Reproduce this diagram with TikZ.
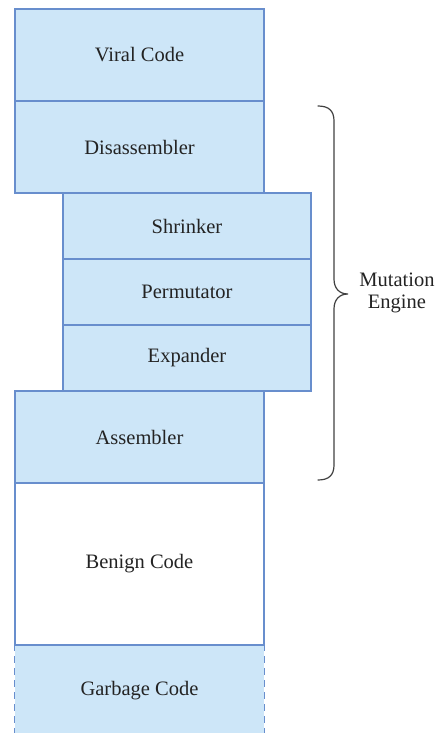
\documentclass[tikz,border=0pt]{standalone}
\usepackage{fontspec}
\setmainfont{Liberation Serif}
\definecolor{boxfill}{RGB}{205,230,248}
\definecolor{boxline}{RGB}{104,142,205}
\definecolor{txt}{RGB}{35,35,35}
\begin{document}
\begin{tikzpicture}[x=1pt,y=-1pt,
  layer/.style={draw=boxline,line width=1.3pt,fill=boxfill,inner sep=0pt,
    minimum width=249pt,text=txt,font=\fontsize{20.5}{24}\selectfont},
  tall/.style={minimum height=92pt},
  thin/.style={minimum height=66pt},
  bracestyle/.style={draw=black!75,line width=1.2pt,line cap=round}]
\useasboundingbox (0,0) rectangle (443,733);
% main column
\node[layer,tall] (viral) at (139.5,55) {Viral Code};
\node[layer,tall] (disasm) at (139.5,147) {Disassembler};
% shifted mutation stages
\node[layer,thin,minimum width=248pt] (shrink) at (187,226) {Shrinker};
\node[layer,thin,minimum width=248pt] (perm) at (187,292) {Permutator};
\node[layer,thin,minimum width=248pt] (expand) at (187,358) {Expander};
\node[layer,tall] (asm) at (139.5,437) {Assembler};
\node[layer,minimum height=162pt,fill=white] (benign) at (139.5,564) {Benign Code};
% trailing garbage block, open at the bottom with dashed sides
\node[layer,draw=none,minimum height=92pt] (garbage) at (139.5,691) {Garbage Code};
\draw[boxline,line width=1.3pt,dash pattern=on 7pt off 5pt] (garbage.north west) -- (garbage.south west);
\draw[boxline,line width=1.3pt,dash pattern=on 7pt off 5pt] (garbage.north east) -- (garbage.south east);
\draw[boxline,line width=1.3pt] (benign.south west) -- (benign.south east);
% brace
\coordinate (btop) at (318,106);
\coordinate (bbot) at (318,480);
\coordinate (btip) at (348,294);
\draw[bracestyle] (btop) .. controls (329,106) and (334,111) .. (334,121)
  -- (334,279) .. controls (334,288) and (339,294) .. (btip)
  .. controls (339,294) and (334,300) .. (334,309)
  -- (334,465) .. controls (334,475) and (329,480) .. (bbot);
\node[text=txt,font=\fontsize{20.5}{22.5}\selectfont,align=center] (label) at (397,293) {Mutation\\Engine};
\end{tikzpicture}
\end{document}
